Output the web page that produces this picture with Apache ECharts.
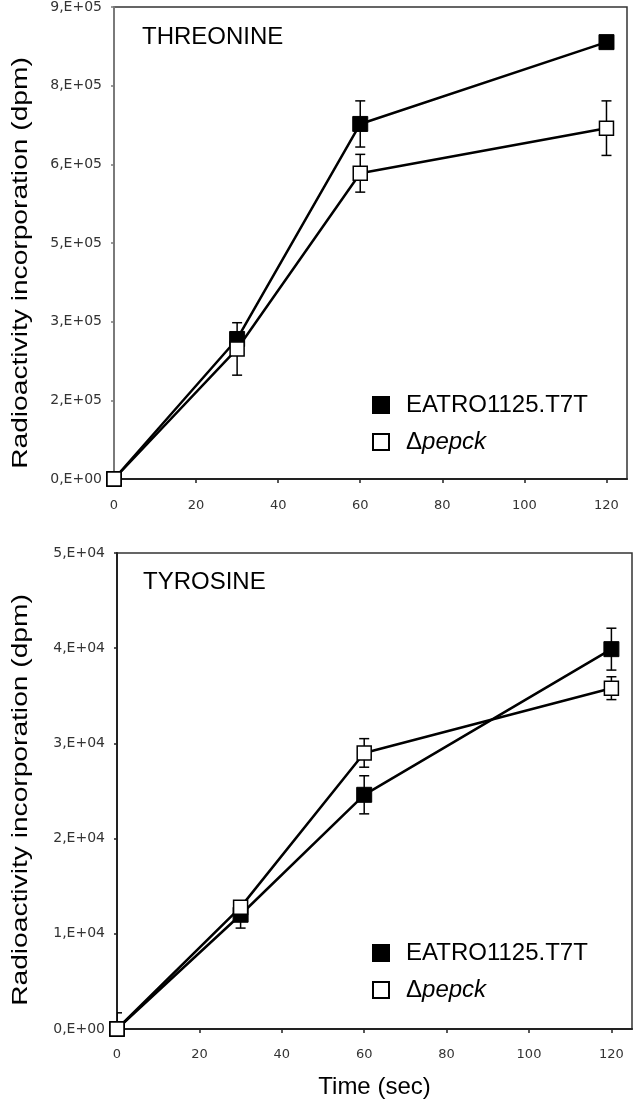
<!DOCTYPE html>
<html>
<head>
<meta charset="utf-8">
<script src="https://cdn.jsdelivr.net/npm/echarts@6/dist/echarts.min.js"></script>
<style>
html,body{margin:0;padding:0;background:#fff;}
#chart{width:634px;height:1102px;}
</style>
</head>
<body>
<div id="chart"></div>
<script>
// ---- data ----
const times = [0, 30, 60, 120];
const xTicks = [0, 20, 40, 60, 80, 100, 120];

// Threonine (dpm)
const thrWT = [0, 267000, 677000, 833000];
const thrWTErr = [0, 10000, 44000, 10000];
const thrKO = [0, 248000, 583000, 669000];
const thrKOErr = [0, 50000, 36000, 52000];
const thrYTicks = ['0,E+00', '2,E+05', '3,E+05', '5,E+05', '6,E+05', '8,E+05', '9,E+05'];

// Tyrosine (dpm)
const tyrWT = [0, 12000, 24600, 39900];
const tyrWTErr = [1700, 1400, 2000, 2200];
const tyrKO = [0, 12800, 29000, 35800];
const tyrKOErr = [0, 500, 1500, 1200];
const tyrYTicks = ['0,E+00', '1,E+04', '2,E+04', '3,E+04', '4,E+04', '5,E+04'];

const seriesNames = ['EATRO1125.T7T', 'Δpepck'];
const panelTitles = ['THREONINE', 'TYROSINE'];
const yTitle = 'Radioactivity incorporation (dpm)';
const xTitle = 'Time (sec)';

// ---- helpers ----
const FONT = '"Liberation Sans", Arial, sans-serif';
const TICKFONT = '"DejaVu Sans", Verdana, sans-serif';
function pts(y) { return times.map((t, i) => [t, y[i]]); }
function errs(y, e) { return times.map((t, i) => [t, y[i] - e[i], y[i] + e[i]]); }

function errRender(params, api) {
  const x = api.value(0), lo = api.value(1), hi = api.value(2);
  if (hi === lo) return null;
  const a = api.coord([x, hi]), b = api.coord([x, lo]);
  const w = 5;
  const st = { stroke: '#000', lineWidth: 1.5 };
  return {
    type: 'group', children: [
      { type: 'line', shape: { x1: a[0], y1: a[1], x2: b[0], y2: b[1] }, style: st },
      { type: 'line', shape: { x1: a[0] - w, y1: a[1], x2: a[0] + w, y2: a[1] }, style: st },
      { type: 'line', shape: { x1: b[0] - w, y1: b[1], x2: b[0] + w, y2: b[1] }, style: st }
    ]
  };
}

function lineSeries(name, data, idx, filled) {
  return {
    name: name, type: 'line', xAxisIndex: idx, yAxisIndex: idx,
    data: data, symbol: 'rect', symbolSize: filled ? 15 : 14,
    lineStyle: { color: '#000', width: 2.5 },
    itemStyle: filled ? { color: '#000', borderColor: '#000', borderWidth: 1 }
                      : { color: '#fff', borderColor: '#000', borderWidth: 1.5 },
    z: filled ? 3 : 4, animation: false
  };
}
function errSeries(name, data, idx) {
  return {
    name: name, type: 'custom', xAxisIndex: idx, yAxisIndex: idx,
    data: data, renderItem: errRender, encode: { x: 0, y: [1, 2] },
    clip: true, z: 2, silent: true, animation: false
  };
}

function xAxis(idx, labelMargin, showName) {
  return {
    type: 'value', gridIndex: idx, min: 0, max: 125, interval: 20,
    axisLine: { show: true, onZero: false, lineStyle: { color: '#222', width: 2 } },
    axisTick: { show: true, length: 4, inside: false, customValues: xTicks, lineStyle: { color: '#222', width: 1.5 } },
    axisLabel: { customValues: xTicks, margin: labelMargin, color: '#333', fontSize: 13, fontFamily: TICKFONT,
                 formatter: v => (xTicks.indexOf(v) >= 0 ? String(v) : '') },
    splitLine: { show: false },
    name: showName ? xTitle : '', nameLocation: 'middle', nameGap: 46,
    nameTextStyle: { fontSize: 24, fontFamily: FONT, color: '#000' }
  };
}
function yAxis(idx, max, interval, labels, lineColor) {
  return {
    type: 'value', gridIndex: idx, min: 0, max: max, interval: interval,
    axisLine: { show: true, lineStyle: { color: lineColor, width: 2 } },
    axisTick: { show: true, length: 3, inside: false, lineStyle: { color: lineColor, width: 1.5 } },
    axisLabel: { margin: 12, color: '#333', fontSize: 14, fontFamily: TICKFONT,
                 formatter: v => labels[Math.round(v / interval)] },
    splitLine: { show: false }
  };
}

function legendFmt(name) { return name === 'Δpepck' ? '{n|Δ}{i|pepck}' : name; }
function legend(top) {
  return {
    data: seriesNames, orient: 'vertical', left: 367, top: top,
    itemWidth: 16, itemHeight: 16, itemGap: 13, icon: 'rect',
    formatter: legendFmt, selectedMode: false,
    textStyle: {
      fontSize: 24, fontFamily: FONT, color: '#000', padding: [0, 0, 0, 12], lineHeight: 24,
      rich: { n: { fontSize: 24, fontFamily: FONT, color: '#000' },
              i: { fontSize: 24, fontFamily: FONT, fontStyle: 'italic', color: '#000' } }
    }
  };
}

const chart = echarts.init(document.getElementById('chart'), null, { renderer: 'canvas' });
chart.setOption({
  animation: false,
  backgroundColor: '#fff',
  grid: [
    { left: 114, top: 7, width: 513, height: 472, show: true, borderColor: '#333', borderWidth: 1.5, containLabel: false },
    { left: 117, top: 553, width: 515, height: 476, show: true, borderColor: '#333', borderWidth: 1.5, containLabel: false }
  ],
  xAxis: [xAxis(0, 20, false), xAxis(1, 19, true)],
  yAxis: [yAxis(0, 900000, 150000, thrYTicks, '#7a7a7a'), yAxis(1, 50000, 10000, tyrYTicks, '#222')],
  legend: [legend(388), legend(936)],
  graphic: [
    { type: 'text', x: 142, y: 37, style: { text: panelTitles[0], fontSize: 24, fontFamily: FONT, fill: '#000', textVerticalAlign: 'middle' } },
    { type: 'text', x: 143, y: 582, style: { text: panelTitles[1], fontSize: 24, fontFamily: FONT, fill: '#000', textVerticalAlign: 'middle' } },
    { type: 'text', x: 21, y: 263, rotation: Math.PI / 2, scaleX: 1.28,
      style: { text: yTitle, fontSize: 22, fontFamily: FONT, fill: '#000', textAlign: 'center', textVerticalAlign: 'middle' } },
    { type: 'text', x: 21, y: 800, rotation: Math.PI / 2, scaleX: 1.28,
      style: { text: yTitle, fontSize: 22, fontFamily: FONT, fill: '#000', textAlign: 'center', textVerticalAlign: 'middle' } }
  ],
  series: [
    errSeries('errThrWT', errs(thrWT, thrWTErr), 0),
    errSeries('errThrKO', errs(thrKO, thrKOErr), 0),
    lineSeries(seriesNames[0], pts(thrWT), 0, true),
    lineSeries(seriesNames[1], pts(thrKO), 0, false),
    errSeries('errTyrWT', errs(tyrWT, tyrWTErr), 1),
    errSeries('errTyrKO', errs(tyrKO, tyrKOErr), 1),
    lineSeries(seriesNames[0], pts(tyrWT), 1, true),
    lineSeries(seriesNames[1], pts(tyrKO), 1, false)
  ]
});
</script>
</body>
</html>
